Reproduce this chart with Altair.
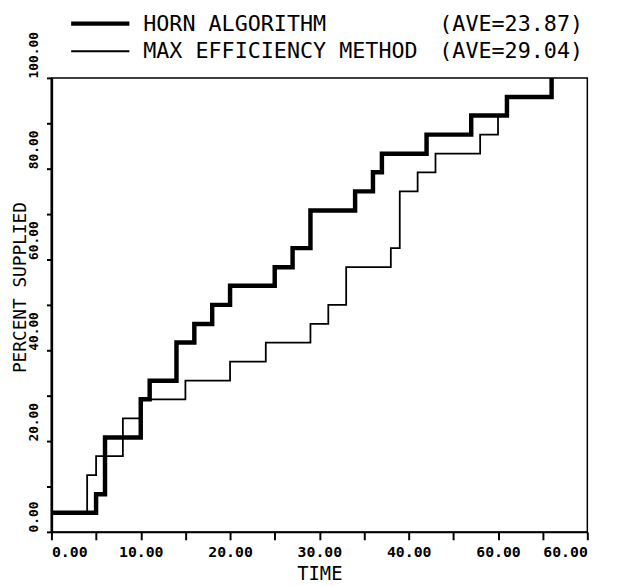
import altair as alt
import pandas as pd

# ---- data ----
horn_time = [0, 5, 6, 10, 11, 14, 16, 18, 20, 25, 27, 29, 34, 36, 37, 42, 47, 51, 56]
horn_pct = [4.2, 8.3, 20.8, 29.2, 33.3, 41.7, 45.8, 50.0, 54.2, 58.3, 62.5, 70.8,
            75.0, 79.2, 83.3, 87.5, 91.7, 95.8, 100.0]
maxeff_time = [0, 4, 5, 8, 10, 15, 20, 24, 29, 31, 33, 38, 39, 41, 43, 48, 50, 51, 56]
maxeff_pct = [4.2, 12.5, 16.7, 25.0, 29.2, 33.3, 37.5, 41.7, 45.8, 50.0, 58.3, 62.5,
              75.0, 79.2, 83.3, 87.5, 91.7, 95.8, 100.0]

series_names = ["HORN ALGORITHM", "MAX EFFICIENCY METHOD"]
series_aves = ["(AVE=23.87)", "(AVE=29.04)"]

x_tick_values = [0, 10, 20, 30, 40, 50, 60]
x_tick_labels = ["0.00", "10.00", "20.00", "30.00", "40.00", "60.00", "60.00"]
y_tick_values = [0, 20, 40, 60, 80, 100]
y_tick_labels = ["0.00", "20.00", "40.00", "60.00", "80.00", "100.00"]

FONT = "DejaVu Sans Mono"


def label_expr(values, labels):
    expr = "''"
    for v, lab in reversed(list(zip(values, labels))):
        expr = f"datum.value == {v} ? '{lab}' : ({expr})"
    return expr


horn_df = pd.DataFrame({"time": horn_time, "pct": horn_pct})
maxeff_df = pd.DataFrame({"time": maxeff_time, "pct": maxeff_pct})

x_enc = alt.X(
    "time:Q",
    scale=alt.Scale(domain=[0, 60], nice=False, zero=False),
    axis=alt.Axis(
        values=list(range(0, 61, 5)),
        labelExpr=label_expr(x_tick_values, x_tick_labels),
        title="TIME",
        grid=False,
        tickSize=8,
        tickWidth=2,
        tickColor="black",
        domainColor="black",
        domainWidth=2,
        labelPadding=5,
        labelFont=FONT,
        labelFontSize=15,
        labelFontWeight="bold",
        labelColor="black",
        labelOverlap=False,
        titleFont=FONT,
        titleFontSize=19,
        titleFontWeight="normal",
        titleColor="black",
        titleY=42,
        titleBaseline="middle",
    ),
)

y_enc = alt.Y(
    "pct:Q",
    scale=alt.Scale(domain=[0, 100], nice=False, zero=False),
    axis=alt.Axis(
        values=list(range(0, 101, 10)),
        labelExpr=label_expr(y_tick_values, y_tick_labels),
        title="PERCENT SUPPLIED",
        grid=False,
        tickSize=5,
        tickWidth=2,
        tickColor="black",
        domainColor="black",
        domainWidth=2.5,
        labelAngle=270,
        labelAlign="left",
        labelBaseline="bottom",
        labelPadding=6,
        labelFont=FONT,
        labelFontSize=13,
        labelFontWeight="bold",
        labelColor="black",
        labelOverlap=False,
        titleFont=FONT,
        titleFontSize=18,
        titleFontWeight="normal",
        titleColor="black",
        titleAngle=270,
        titleX=-31,
        titleY=212,
        titleAlign="center",
        titleBaseline="middle",
    ),
)

thin = alt.Chart(maxeff_df).mark_line(
    interpolate="step-after", color="black", strokeWidth=1.8
).encode(x=x_enc, y=y_enc)

thick = alt.Chart(horn_df).mark_line(
    interpolate="step-after", color="black", strokeWidth=4.5
).encode(x="time:Q", y="pct:Q")

# ---- legend drawn above the plot ----
leg_rows = [-55, -27]
leg_widths = [4.5, 1.8]
legend_layers = []
for i in range(2):
    ldf = pd.DataFrame({"name": [series_names[i]], "ave": [series_aves[i]]})
    base = alt.Chart(ldf)
    legend_layers.append(
        base.mark_rule(color="black", strokeWidth=leg_widths[i]).encode(
            x=alt.value(20), x2=alt.value(79), y=alt.value(leg_rows[i])
        )
    )
    legend_layers.append(
        base.mark_text(align="left", baseline="middle", font=FONT, fontSize=22,
                       color="black").encode(
            x=alt.value(93), y=alt.value(leg_rows[i]), text="name:N"
        )
    )
    legend_layers.append(
        base.mark_text(align="left", baseline="middle", font=FONT, fontSize=22,
                       color="black").encode(
            x=alt.value(393), y=alt.value(leg_rows[i]), text="ave:N"
        )
    )

chart = alt.layer(thin, thick, *legend_layers).properties(
    width=543,
    height=460,
    autosize=alt.AutoSizeParams(type="none"),
    padding={"left": 44, "top": 67, "right": 25, "bottom": 50},
    background="white",
).configure_view(stroke="black", strokeWidth=1.5)

chart.save("out.html", embed_options={"renderer": "svg", "actions": False})
